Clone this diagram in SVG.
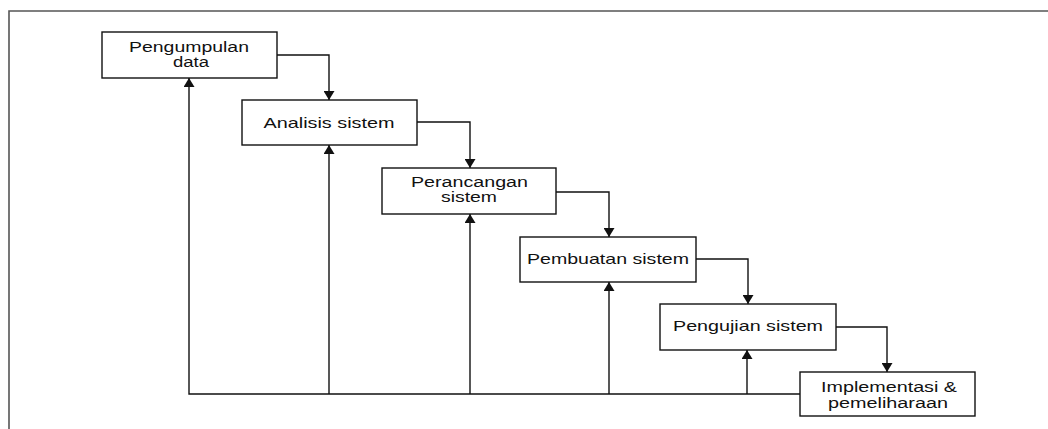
<svg xmlns="http://www.w3.org/2000/svg" width="1048" height="429" viewBox="0 0 1048 429">
<defs>
<style>
.box{fill:#fff;stroke:#111;stroke-width:1.4}
.lbl{font-family:"Liberation Sans",Arial,sans-serif;font-size:14.5px;fill:#111;text-anchor:middle}
.two{font-size:14px}
.con{fill:none;stroke:#111;stroke-width:1.4}
.frame{fill:none;stroke:#555;stroke-width:1.6}
</style>
<marker id="ah" markerUnits="userSpaceOnUse" markerWidth="9" markerHeight="11" refX="9" refY="5.5" orient="auto">
<path d="M0,0 L9,5.5 L0,11 z" fill="#111"/>
</marker>
</defs>
<rect width="1048" height="429" fill="#fff"/>
<path class="frame" d="M9,429 V11 H1048"/>
<g id="connectors">
<path class="con" d="M277,55 H329 V100" marker-end="url(#ah)"/>
<path class="con" d="M417,122 H470 V168" marker-end="url(#ah)"/>
<path class="con" d="M556,192 H609 V237" marker-end="url(#ah)"/>
<path class="con" d="M696,259 H748 V304" marker-end="url(#ah)"/>
<path class="con" d="M836,327 H887 V372" marker-end="url(#ah)"/>
<path class="con" d="M800,394 H189 V78" marker-end="url(#ah)"/>
<path class="con" d="M329,394 V145" marker-end="url(#ah)"/>
<path class="con" d="M470,394 V214" marker-end="url(#ah)"/>
<path class="con" d="M609,394 V282" marker-end="url(#ah)" stroke="#666"/>
<path class="con" d="M747,394 V350" marker-end="url(#ah)"/>
</g>
<g id="n1">
<rect class="box" x="102" y="32" width="175" height="46"/>
<text class="lbl two" x="189" y="51.5" textLength="120" lengthAdjust="spacingAndGlyphs">Pengumpulan</text>
<text class="lbl two" x="191" y="67.3" textLength="36" lengthAdjust="spacingAndGlyphs">data</text>
</g>
<g id="n2">
<rect class="box" x="242" y="100" width="175" height="45"/>
<text class="lbl" x="329" y="127.5" textLength="131" lengthAdjust="spacingAndGlyphs">Analisis sistem</text>
</g>
<g id="n3">
<rect class="box" x="382" y="168" width="174" height="46"/>
<text class="lbl two" x="469.5" y="186.5" textLength="117" lengthAdjust="spacingAndGlyphs">Perancangan</text>
<text class="lbl two" x="469" y="202.3" textLength="56" lengthAdjust="spacingAndGlyphs">sistem</text>
</g>
<g id="n4">
<rect class="box" x="520" y="237" width="176" height="45"/>
<text class="lbl" x="608" y="263.5" textLength="162" lengthAdjust="spacingAndGlyphs">Pembuatan sistem</text>
</g>
<g id="n5">
<rect class="box" x="660" y="304" width="176" height="46"/>
<text class="lbl" x="748" y="330.5" textLength="150" lengthAdjust="spacingAndGlyphs">Pengujian sistem</text>
</g>
<g id="n6">
<rect class="box" x="800" y="372" width="175" height="44"/>
<text class="lbl two" x="889" y="392" textLength="136" lengthAdjust="spacingAndGlyphs">Implementasi &amp;</text>
<text class="lbl two" x="888" y="407.8" textLength="120" lengthAdjust="spacingAndGlyphs">pemeliharaan</text>
</g>
</svg>
